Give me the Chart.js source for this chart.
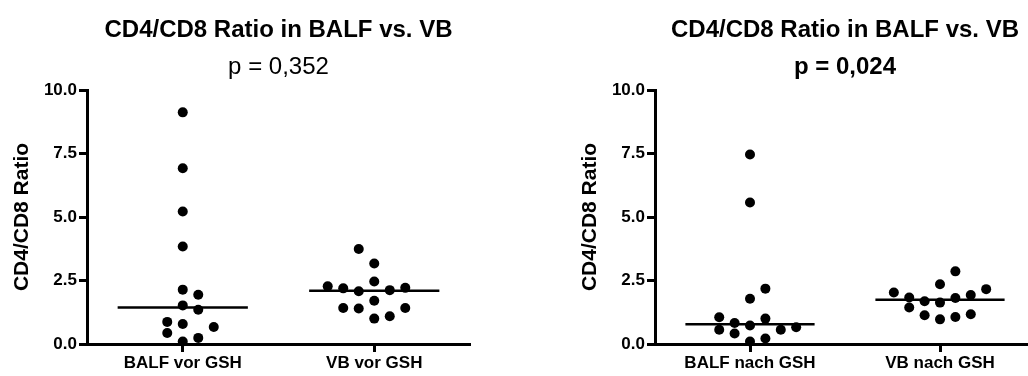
<!DOCTYPE html>
<html>
<head>
<meta charset="utf-8">
<script src="https://cdn.jsdelivr.net/npm/chart.js@4.4.1/dist/chart.umd.min.js"></script>
<style>
  html, body { margin: 0; padding: 0; background: #fff; overflow: hidden; width: 1028px; height: 376px; }
  canvas { position: absolute; top: 0; }
  #leftChart { left: 0; }
  #rightChart { left: 568px; }
</style>
</head>
<body>
<canvas id="leftChart" width="514" height="376"></canvas>
<canvas id="rightChart" width="514" height="376"></canvas>
<script>
// values
const chartTitles = ['CD4/CD8 Ratio in BALF vs. VB', 'CD4/CD8 Ratio in BALF vs. VB'];
const pValues = ['p = 0,352', 'p = 0,024'];
const pBold = [false, true];
const leftCategories = ['BALF vor GSH', 'VB vor GSH'];
const rightCategories = ['BALF nach GSH', 'VB nach GSH'];
const yTicks = [0, 2.5, 5, 7.5, 10];

const balfVor = [9.12, 6.92, 5.22, 3.84, 2.14, 1.94, 1.52, 1.35, 0.87, 0.79, 0.67, 0.43, 0.24, 0.10];
const vbVor = [3.74, 3.17, 2.46, 2.27, 2.19, 2.08, 2.12, 2.21, 1.70, 1.42, 1.40, 1.42, 1.09, 1.00];
const balfNach = [7.46, 5.57, 2.18, 1.78, 1.05, 1.00, 0.83, 0.73, 0.66, 0.56, 0.56, 0.41, 0.22, 0.10];
const vbNach = [2.86, 2.35, 2.16, 2.03, 1.93, 1.83, 1.81, 1.68, 1.63, 1.44, 1.17, 1.13, 1.06, 0.97];

// column-scatter lane of each dot (how GraphPad spread them sideways)
const balfVorLane = [0, 0, 0, 0, 0, 1, 0, 1, -1, 0, 2, -1, 1, 0];
const vbVorLane = [-1, 0, 0, -3, -2, -1, 1, 2, 0, -2, -1, 2, 1, 0];
const balfNachLane = [0, 0, 1, 0, -2, 1, -1, 0, 3, -2, 2, -1, 1, 0];
const vbNachLane = [1, 0, 3, -3, 2, -2, 1, -1, 0, -2, 2, -1, 1, 0];

const FONT = "'Liberation Sans', Arial, sans-serif";
const LANE_STEP = 0.081;
const MEDIAN_HALF = 0.34;

function median(arr) {
    const s = [...arr].sort((a, b) => a - b);
    const m = Math.floor(s.length / 2);
    return s.length % 2 ? s[m] : (s[m - 1] + s[m]) / 2;
}

function groupDatasets(values, lanes, center) {
    const med = median(values);
    return [
        {
            type: 'scatter',
            data: values.map((v, i) => ({ x: center + lanes[i] * LANE_STEP, y: v })),
            pointRadius: 5, pointHoverRadius: 5,
            backgroundColor: '#000', borderColor: '#000', borderWidth: 0,
            clip: false
        },
        {
            type: 'line',
            data: [{ x: center - MEDIAN_HALF, y: med }, { x: center + MEDIAN_HALF, y: med }],
            borderColor: '#000', borderWidth: 2.5, pointRadius: 0, fill: false,
            clip: false
        }
    ];
}

const headerPlugin = {
    id: 'header',
    afterDraw(chart, args, opts) {
        const { ctx, chartArea } = chart;
        const cx = (chartArea.left + chartArea.right) / 2;
        ctx.save();
        ctx.fillStyle = '#000';
        ctx.textAlign = 'center';
        ctx.textBaseline = 'alphabetic';
        ctx.font = `bold 24px ${FONT}`;
        ctx.fillText(opts.title, cx, 37);
        ctx.font = `${opts.bold ? 'bold ' : ''}24px ${FONT}`;
        ctx.fillText(opts.p, cx, 74);
        ctx.restore();
    }
};

function makeChart(id, categories, groupA, laneA, groupB, laneB, idx, padRight) {
    const ctx = document.getElementById(id).getContext('2d');
    return new Chart(ctx, {
        type: 'scatter',
        data: {
            datasets: [
                ...groupDatasets(groupA, laneA, 0.5),
                ...groupDatasets(groupB, laneB, 1.5)
            ]
        },
        options: {
            responsive: false,
            animation: false,
            layout: { padding: { top: 90, bottom: 0, left: 0, right: padRight } },
            scales: {
                x: {
                    type: 'linear', min: 0, max: 2,
                    afterBuildTicks: scale => { scale.ticks = [{ value: 0.5 }, { value: 1.5 }]; },
                    afterFit: scale => { scale.height = 32; },
                    ticks: {
                        callback: v => categories[v < 1 ? 0 : 1],
                        color: '#000', padding: 1, maxRotation: 0,
                        font: { family: FONT, size: 17, weight: 'bold' }
                    },
                    grid: { display: true, drawOnChartArea: false, drawTicks: true, tickLength: 8, tickWidth: 3, tickColor: '#000', color: '#000' },
                    border: { display: true, color: '#000', width: 3 }
                },
                y: {
                    type: 'linear', min: 0, max: 10,
                    afterBuildTicks: scale => { scale.ticks = yTicks.map(v => ({ value: v })); },
                    afterFit: scale => { scale.width = 87; },
                    ticks: {
                        callback: v => Number(v).toFixed(1),
                        color: '#000', padding: 2,
                        font: { family: FONT, size: 17, weight: 'bold' }
                    },
                    grid: { display: true, drawOnChartArea: false, drawTicks: true, tickLength: 8, tickWidth: 3, tickColor: '#000', color: '#000' },
                    border: { display: true, color: '#000', width: 3 },
                    title: {
                        display: true, text: 'CD4/CD8 Ratio', color: '#000',
                        padding: { top: 10, bottom: 0 },
                        font: { family: FONT, size: 21, weight: 'bold' }
                    }
                }
            },
            plugins: {
                legend: { display: false },
                tooltip: { enabled: false },
                header: { title: chartTitles[idx], p: pValues[idx], bold: pBold[idx] }
            }
        },
        plugins: [headerPlugin]
    });
}

makeChart('leftChart', leftCategories, balfVor, balfVorLane, vbVor, vbVorLane, 0, 44);
makeChart('rightChart', rightCategories, balfNach, balfNachLane, vbNach, vbNachLane, 1, 47);
</script>
</body>
</html>
